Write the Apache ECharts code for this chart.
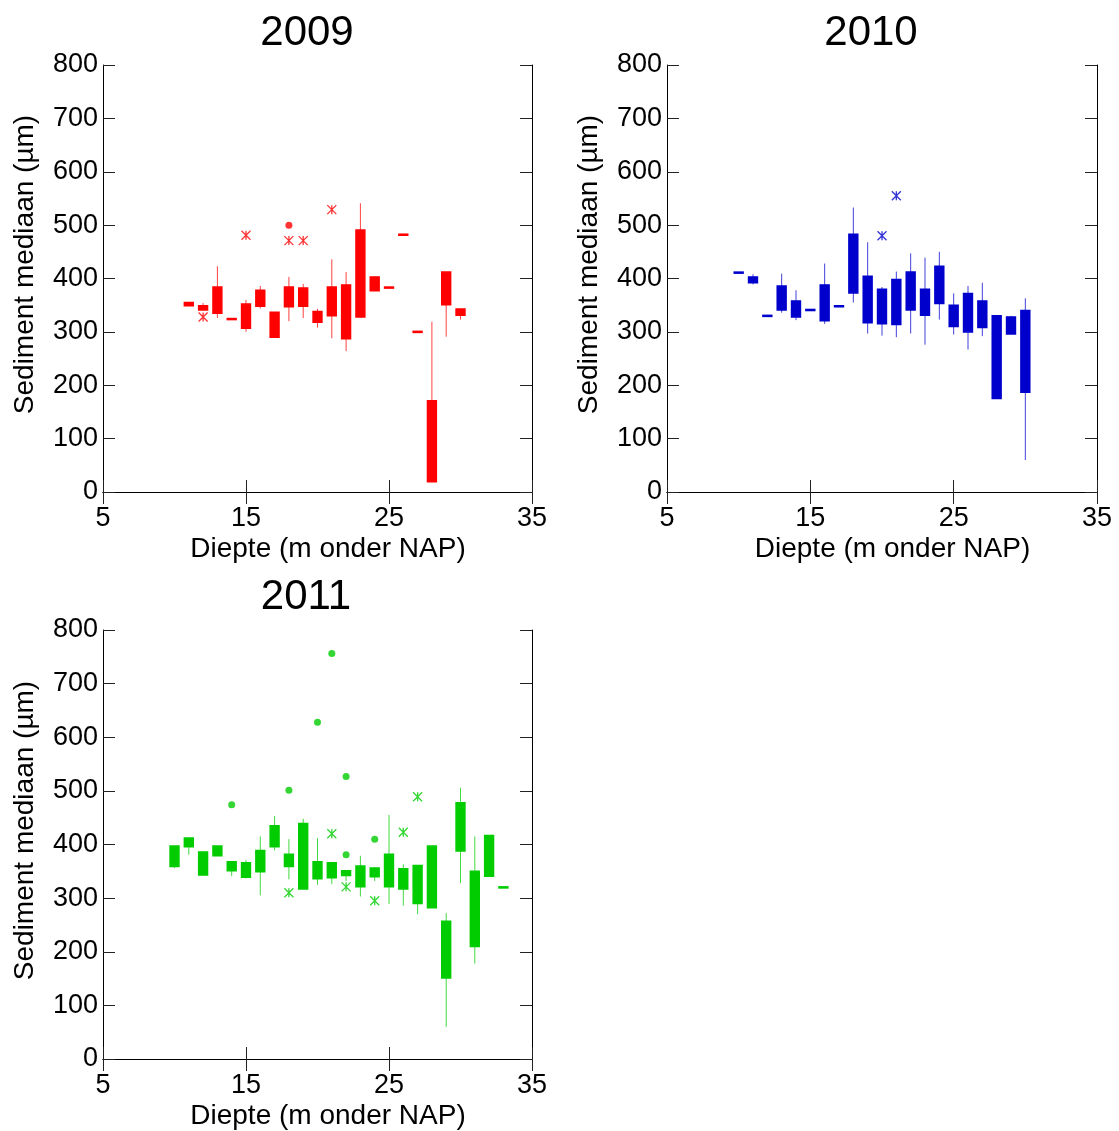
<!DOCTYPE html>
<html>
<head>
<meta charset="utf-8">
<script src="https://cdn.jsdelivr.net/npm/echarts@6/dist/echarts.min.js"></script>
<style>html,body{margin:0;padding:0;background:#fff;}#c{width:1119px;height:1131px;}</style>
</head>
<body>
<div id="c"></div>
<script>
// ---- data ----
const years = ['2009', '2010', '2011'];
const yTicks = [0, 100, 200, 300, 400, 500, 600, 700, 800];
const xTicks = [5, 15, 25, 35];

// 2009
const depth2009     = [11, 12, 13, 14, 15, 16, 17, 18, 19, 20, 21, 22, 23, 24, 25, 26, 27, 28, 29, 30];
const boxLow2009    = [349, 341, 335, 323, 307, 348, 290, 347, 348, 318, 330, 287, 328, 377, 382, 481, 299, 19, 351, 331];
const boxHigh2009   = [355, 349, 384, 325, 352, 378, 337, 384, 382, 338, 384, 388, 491, 403, 384, 483, 301, 171, 412, 343];
const whiskLow2009  = [349, 341, 326, 323, 300, 344, 290, 320, 326, 308, 288, 264, 327, 377, 382, 481, 299, 19, 291, 323];
const whiskHigh2009 = [355, 354, 423, 325, 360, 386, 337, 403, 390, 343, 436, 412, 541, 403, 384, 483, 301, 319, 412, 343];
const dots2009  = [[18, 500]];
const stars2009 = [[12, 328], [15, 481], [18, 471], [19, 471], [21, 529]];

// 2010
const depth2010     = [10, 11, 12, 13, 14, 15, 16, 17, 18, 19, 20, 21, 22, 23, 24, 25, 26, 27, 28, 29, 30];
const boxLow2010    = [410, 392, 329, 341, 328, 340, 321, 347, 373, 317, 315, 314, 341, 331, 353, 310, 300, 308, 175, 296, 187];
const boxHigh2010   = [412, 403, 331, 386, 358, 342, 388, 349, 483, 404, 380, 398, 412, 380, 423, 350, 372, 358, 330, 328, 340];
const whiskLow2010  = [410, 389, 329, 336, 322, 340, 315, 347, 355, 297, 293, 290, 297, 276, 323, 295, 267, 292, 175, 296, 60];
const whiskHigh2010 = [412, 408, 331, 409, 378, 342, 428, 349, 533, 468, 384, 413, 447, 439, 450, 372, 386, 392, 330, 330, 363];
const dots2010  = [];
const stars2010 = [[20, 480], [21, 555]];

// 2011
const depth2011     = [10, 11, 12, 13, 14, 15, 16, 17, 18, 19, 20, 21, 22, 23, 24, 25, 26, 27, 28, 29, 30, 31, 32, 33];
const boxLow2011    = [359, 396, 343, 379, 351, 339, 349, 396, 359, 317, 336, 338, 342, 321, 340, 321, 317, 290, 282, 151, 388, 210, 341, 319];
const boxHigh2011   = [397, 412, 386, 397, 368, 366, 389, 435, 382, 439, 368, 366, 351, 360, 356, 382, 355, 361, 397, 257, 478, 350, 417, 321];
const whiskLow2011  = [356, 381, 343, 379, 341, 337, 305, 389, 335, 317, 325, 326, 332, 303, 332, 289, 286, 270, 282, 60, 328, 178, 341, 319];
const whiskHigh2011 = [397, 412, 386, 397, 368, 371, 415, 453, 410, 448, 412, 366, 351, 379, 358, 455, 363, 361, 397, 272, 506, 415, 417, 321];
const dots2011  = [[14, 474], [18, 501], [20, 628], [21, 756], [22, 527], [22, 381], [24, 410]];
const stars2011 = [[18, 310], [21, 420], [22, 321], [24, 295], [26, 423], [27, 489]];

const colors = ['#ff0000', '#0000cd', '#00cc00'];

// ---- build ----
function rows(d, lo, hi, wl, wh) {
  return d.map((x, i) => [x, lo[i], hi[i], wl[i], wh[i]]);
}
const boxData = [
  rows(depth2009, boxLow2009, boxHigh2009, whiskLow2009, whiskHigh2009),
  rows(depth2010, boxLow2010, boxHigh2010, whiskLow2010, whiskHigh2010),
  rows(depth2011, boxLow2011, boxHigh2011, whiskLow2011, whiskHigh2011)
];
const dotData = [dots2009, dots2010, dots2011];
const starData = [stars2009, stars2010, stars2011];

const FONT = 'Liberation Sans, Arial, sans-serif';
const grids = [
  { left: 103, top: 65, width: 429, height: 427 },
  { left: 667, top: 65, width: 430, height: 427 },
  { left: 103, top: 630, width: 429, height: 430 }
];
const titlePos = [[307, 33], [871, 33], [306, 597]];

const xAxes = [], yAxes = [], series = [], graphics = [];
const tickStyle = { show: true, inside: true, length: 12, lineStyle: { color: '#222', width: 1 } };
const lineStyle = { show: true, lineStyle: { color: '#000', width: 1 } };

grids.forEach((g, i) => {
  xAxes.push({
    gridIndex: i, type: 'value', position: 'bottom',
    min: xTicks[0], max: xTicks[xTicks.length - 1], interval: xTicks[1] - xTicks[0],
    axisLine: lineStyle, axisTick: tickStyle, splitLine: { show: false },
    axisLabel: { fontSize: 27, color: '#000', fontFamily: FONT, margin: 13 },
    name: 'Diepte (m onder NAP)', nameLocation: 'middle', nameGap: 43,
    nameTextStyle: { fontSize: 28, color: '#000', fontFamily: FONT, padding: [0, 0, 0, 21] }
  });
  xAxes.push({
    gridIndex: i, type: 'value', position: 'top',
    min: xTicks[0], max: xTicks[xTicks.length - 1], interval: xTicks[1] - xTicks[0],
    axisLine: lineStyle, axisTick: tickStyle, splitLine: { show: false },
    axisLabel: { show: false }
  });
  yAxes.push({
    gridIndex: i, type: 'value', position: 'left',
    min: yTicks[0], max: yTicks[yTicks.length - 1], interval: yTicks[1] - yTicks[0],
    axisLine: lineStyle, axisTick: tickStyle, splitLine: { show: false },
    axisLabel: { fontSize: 27, color: '#000', fontFamily: FONT, margin: 5, padding: [6, 0, 0, 0] },
    name: 'Sediment mediaan (µm)', nameLocation: 'middle', nameGap: 64,
    nameTextStyle: { fontSize: 28, color: '#000', fontFamily: FONT, padding: [0, 0, 0, 28] }
  });
  yAxes.push({
    gridIndex: i, type: 'value', position: 'right',
    min: yTicks[0], max: yTicks[yTicks.length - 1], interval: yTicks[1] - yTicks[0],
    axisLine: lineStyle, axisTick: tickStyle, splitLine: { show: false },
    axisLabel: { show: false }
  });

  const col = colors[i];
  series.push({
    type: 'custom', xAxisIndex: 2 * i, yAxisIndex: 2 * i,
    data: boxData[i],
    encode: { x: 0, y: [1, 2, 3, 4] },
    renderItem: function (params, api) {
      const x = api.value(0);
      const lo = api.coord([x, api.value(1)]);
      const hi = api.coord([x, api.value(2)]);
      const wl = api.coord([x, api.value(3)]);
      const wh = api.coord([x, api.value(4)]);
      const w = api.size([0.62, 0])[0];
      return {
        type: 'group',
        children: [
          { type: 'line', shape: { x1: wl[0], y1: wl[1], x2: wh[0], y2: wh[1] },
            style: { stroke: col, lineWidth: 1, opacity: 0.75 } },
          { type: 'rect', shape: { x: lo[0] - w / 2, y: hi[1], width: w, height: lo[1] - hi[1] },
            style: { fill: col, stroke: col, lineWidth: 1.5 } }
        ]
      };
    },
    silent: true, animation: false
  });
  series.push({
    type: 'scatter', xAxisIndex: 2 * i, yAxisIndex: 2 * i,
    data: dotData[i], symbol: 'circle', symbolSize: 7,
    itemStyle: { color: col }, silent: true, animation: false
  });
  series.push({
    type: 'scatter', xAxisIndex: 2 * i, yAxisIndex: 2 * i,
    data: starData[i], symbol: 'path://M0,0L10,10M10,0L0,10M5,0L5,10', symbolSize: 9,
    itemStyle: { color: col, borderColor: col, borderWidth: 1.3 }, silent: true, animation: false
  });

  graphics.push({
    type: 'text', x: titlePos[i][0], y: titlePos[i][1],
    style: { text: years[i], font: '42px ' + FONT, fill: '#000',
      align: 'center', verticalAlign: 'middle', textAlign: 'center', textVerticalAlign: 'middle' }
  });
});

const chart = echarts.init(document.getElementById('c'), null, { renderer: 'canvas' });
chart.setOption({
  animation: false,
  backgroundColor: '#fff',
  grid: grids,
  xAxis: xAxes,
  yAxis: yAxes,
  series: series,
  graphic: graphics
});
</script>
</body>
</html>
